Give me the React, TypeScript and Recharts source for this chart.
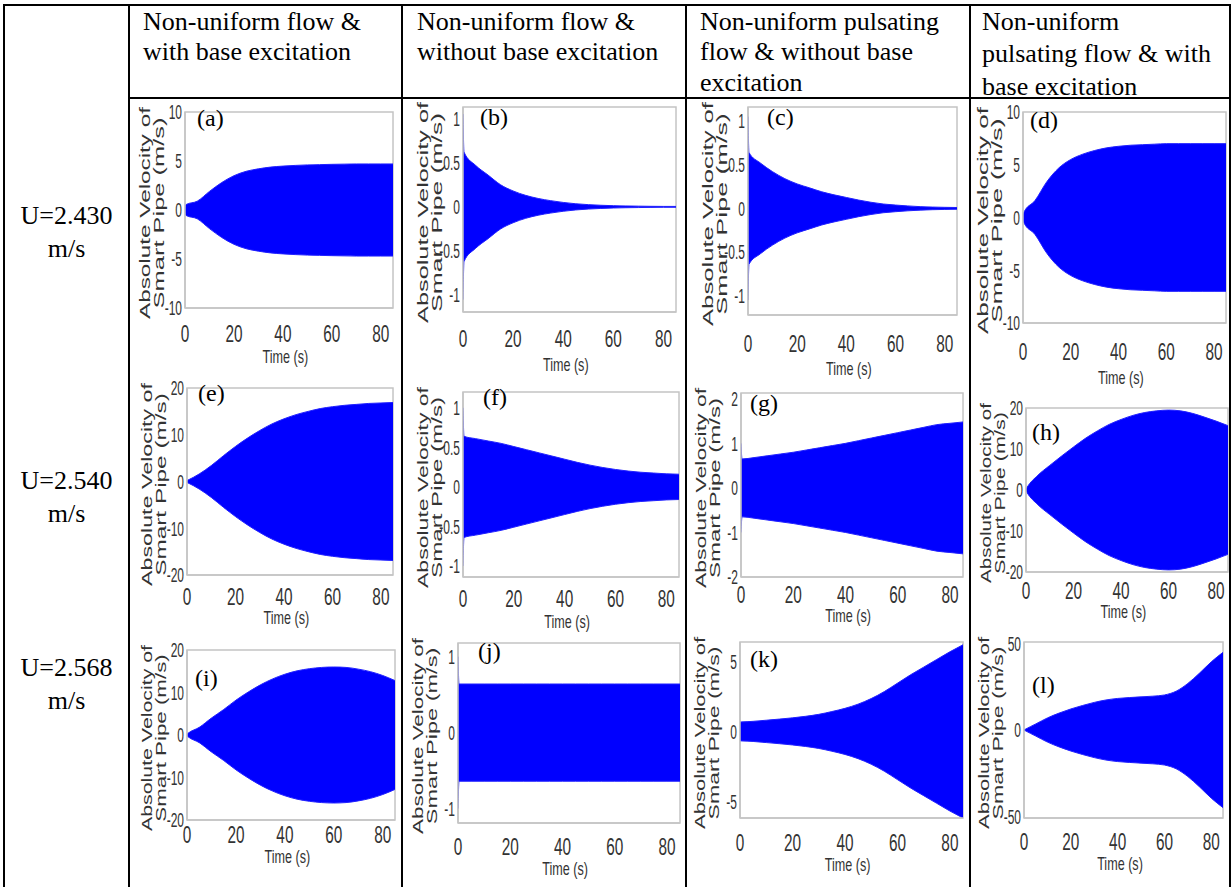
import React from 'react';
import { AreaChart, Area, XAxis, YAxis } from 'recharts';

// sample times (s) shared by every panel
const TIME = [0, 0.4, 5, 10, 15, 20, 25, 30, 35, 40, 45, 50, 55, 60, 65, 70, 75, 80, 85];

// envelope amplitude (m/s) of each response
const ampA = [0.25, 0.55, 0.9, 1.9, 2.8, 3.5, 3.95, 4.2, 4.38, 4.48, 4.55, 4.6, 4.63, 4.66, 4.68, 4.7, 4.7, 4.7, 4.7];
const ampB = [1.05, 0.62, 0.47, 0.36, 0.25, 0.18, 0.13, 0.095, 0.07, 0.05, 0.035, 0.025, 0.018, 0.013, 0.01, 0.008, 0.006, 0.005, 0.005];
const ampC = [1.05, 0.64, 0.52, 0.42, 0.34, 0.28, 0.235, 0.19, 0.155, 0.125, 0.095, 0.07, 0.05, 0.038, 0.028, 0.02, 0.015, 0.012, 0.01];
const ampD = [0.3, 0.5, 1.6, 3.4, 4.7, 5.5, 6.0, 6.35, 6.6, 6.75, 6.85, 6.9, 6.95, 7.0, 7.0, 7.0, 7.0, 7.0, 7.0];
const ampE = [0.2, 0.3, 1.6, 3.4, 5.5, 7.5, 9.3, 10.9, 12.3, 13.4, 14.3, 15.0, 15.6, 16.0, 16.3, 16.5, 16.7, 16.8, 16.9];
const ampF = [1.0, 0.64, 0.61, 0.58, 0.55, 0.51, 0.47, 0.43, 0.39, 0.35, 0.31, 0.275, 0.245, 0.22, 0.2, 0.185, 0.175, 0.165, 0.16];
const ampG = [1.0, 0.65, 0.68, 0.72, 0.76, 0.8, 0.85, 0.9, 0.95, 1.0, 1.06, 1.12, 1.18, 1.24, 1.3, 1.36, 1.42, 1.45, 1.48];
const ampH = [0.2, 0.6, 3.6, 6.0, 8.3, 10.5, 12.6, 14.4, 16.0, 17.2, 18.2, 18.9, 19.3, 19.5, 19.3, 18.7, 17.8, 16.8, 15.7];
const ampI = [0.2, 0.4, 1.8, 4.0, 6.0, 8.2, 10.1, 11.8, 13.2, 14.3, 15.1, 15.6, 15.9, 16.0, 15.9, 15.5, 14.9, 14.0, 12.8];
const ampJ = [1.0, 0.64, 0.64, 0.64, 0.64, 0.64, 0.64, 0.64, 0.64, 0.64, 0.64, 0.64, 0.64, 0.64, 0.64, 0.64, 0.64, 0.64, 0.64];
const ampK = [0.68, 0.68, 0.72, 0.8, 0.88, 0.97, 1.08, 1.22, 1.42, 1.65, 1.95, 2.35, 2.85, 3.45, 4.05, 4.6, 5.15, 5.7, 6.2];
const ampL = [0, 0.3, 3.5, 7, 9.8, 12.2, 14.2, 16, 17.4, 18.3, 18.8, 19.2, 19.6, 20.3, 22.5, 27, 33, 39.5, 45];

const X_TICKS = [0, 20, 40, 60, 80];
const TICKS_10 = [-10, -5, 0, 5, 10];
const TICKS_1 = [-1, -0.5, 0, 0.5, 1];
const TICKS_20 = [-20, -10, 0, 10, 20];
const TICKS_2 = [-2, -1, 0, 1, 2];
const TICKS_J = [-1, 0, 1];
const TICKS_6 = [-5, 0, 5];
const TICKS_50 = [-50, 0, 50];

const HEADERS = [
  ['Non-uniform flow &', 'with base excitation'],
  ['Non-uniform flow &', 'without base excitation'],
  ['Non-uniform pulsating', 'flow & without base', 'excitation'],
  ['Non-uniform', 'pulsating flow & with', 'base excitation'],
];
const SPEEDS = ['U=2.430', 'U=2.540', 'U=2.568'];
const Y_LABEL = ['Absolute Velocity of', 'Smart Pipe (m/s)'];

const SERIF = '"Liberation Serif", "Times New Roman", serif';
const SANS = '"Liberation Sans", Arial, sans-serif';
const AXIS = '#c4c4c4';

type PanelDef = {
  tag: string;
  amp: number[];
  domain: [number, number];
  yTicks: number[];
  box: [number, number, number, number];
  tickOff: number;
  timeOff: number;
  tagPos: [number, number];
};

const PANELS: PanelDef[] = [
  { tag: '(a)', amp: ampA, domain: [-10, 10], yTicks: TICKS_10, box: [185, 112, 208, 196], tickOff: 26, timeOff: 49, tagPos: [12, 6] },
  { tag: '(b)', amp: ampB, domain: [-1.19, 1.13], yTicks: TICKS_1, box: [463, 107, 213, 205], tickOff: 27, timeOff: 53, tagPos: [17, 10] },
  { tag: '(c)', amp: ampC, domain: [-1.22, 1.16], yTicks: TICKS_1, box: [748, 107, 209, 208], tickOff: 29, timeOff: 54, tagPos: [19, 10] },
  { tag: '(d)', amp: ampD, domain: [-10, 10], yTicks: TICKS_10, box: [1023, 112, 203, 211], tickOff: 29, timeOff: 55, tagPos: [7, 8] },
  { tag: '(e)', amp: ampE, domain: [-20, 20], yTicks: TICKS_20, box: [187, 388, 206, 187], tickOff: 22, timeOff: 43, tagPos: [11, 5] },
  { tag: '(f)', amp: ampF, domain: [-1.14, 1.2], yTicks: TICKS_1, box: [463, 392, 216, 185], tickOff: 22, timeOff: 45, tagPos: [20, 5] },
  { tag: '(g)', amp: ampG, domain: [-2, 2.13], yTicks: TICKS_2, box: [741, 393, 222, 184], tickOff: 18, timeOff: 39, tagPos: [9, 10] },
  { tag: '(h)', amp: ampH, domain: [-20, 20], yTicks: TICKS_20, box: [1026, 408, 202, 164], tickOff: 19, timeOff: 40, tagPos: [6, 24] },
  { tag: '(i)', amp: ampI, domain: [-20, 20], yTicks: TICKS_20, box: [187, 650, 208, 170], tickOff: 15, timeOff: 37, tagPos: [8, 28] },
  { tag: '(j)', amp: ampJ, domain: [-1.19, 1.18], yTicks: TICKS_J, box: [458, 643, 222, 180], tickOff: 24, timeOff: 46, tagPos: [20, 8] },
  { tag: '(k)', amp: ampK, domain: [-6.2, 6.4], yTicks: TICKS_6, box: [740, 642, 223, 176], tickOff: 25, timeOff: 47, tagPos: [10, 17] },
  { tag: '(l)', amp: ampL, domain: [-51, 51], yTicks: TICKS_50, box: [1024, 642, 199, 176], tickOff: 24, timeOff: 46, tagPos: [8, 43] },
];

const LEFT = 60;
const TOP = 14;

function Panel({ p }: { p: PanelDef }) {
  const [px, py, w, h] = p.box;
  const W = w + 70;
  const H = h + TOP + 70;
  const data = TIME.map((t, i) => ({ t, band: [-p.amp[i], p.amp[i]] }));

  const xTick = (props: any) => (
    <g transform={`translate(${props.x},${TOP + h + p.tickOff})`}>
      <text transform="scale(0.64,1)" textAnchor="middle" dominantBaseline="central" fontFamily={SANS} fontSize={24} fill="#333">
        {props.payload.value}
      </text>
    </g>
  );
  const yTick = (props: any) => (
    <g transform={`translate(${LEFT - 3},${props.y})`}>
      <text transform="scale(0.6,1)" textAnchor="end" dominantBaseline="central" fontFamily={SANS} fontSize={20} fill="#333">
        {props.payload.value}
      </text>
    </g>
  );

  const len1 = h + 16;
  const len2 = len1 * 0.9;
  const cy = TOP + h / 2 + 3;

  return (
    <div style={{ position: 'absolute', left: px - LEFT, top: py - TOP, width: W, height: H }}>
      <svg width={W} height={H} style={{ position: 'absolute', left: 0, top: 0 }}>
        <rect x={LEFT} y={TOP} width={w} height={h} fill="#fff" stroke={AXIS} strokeWidth={1.5} />
      </svg>
      <div style={{ position: 'absolute', left: 0, top: 0 }}>
        <AreaChart width={W} height={H} data={data} margin={{ top: TOP, right: 10, bottom: 0, left: 0 }}>
          <XAxis
            type="number"
            dataKey="t"
            domain={[0, 85]}
            ticks={X_TICKS}
            allowDataOverflow
            height={70}
            axisLine={{ stroke: AXIS, strokeWidth: 1.5 }}
            tickLine={false}
            tick={xTick}
            interval={0}
          />
          <YAxis
            type="number"
            domain={p.domain}
            ticks={p.yTicks}
            allowDataOverflow
            width={LEFT}
            axisLine={{ stroke: AXIS, strokeWidth: 1.5 }}
            tickLine={false}
            tick={yTick}
            interval={0}
          />
          <Area
            dataKey="band"
            type="monotone"
            fill="#0000ff"
            fillOpacity={1}
            stroke="#2020ff"
            strokeWidth={1}
            dot={false}
            activeDot={false}
            isAnimationActive={false}
          />
        </AreaChart>
      </div>
      <svg width={W} height={H} style={{ position: 'absolute', left: 0, top: 0, pointerEvents: 'none' }}>
        <text
          transform={`translate(${LEFT - 40},${cy}) rotate(-90)`}
          textAnchor="middle"
          dominantBaseline="central"
          fontFamily={SANS}
          fontSize={14}
          fill="#333"
          textLength={len1}
          lengthAdjust="spacingAndGlyphs"
        >
          {Y_LABEL[0]}
        </text>
        <text
          transform={`translate(${LEFT - 26},${cy}) rotate(-90)`}
          textAnchor="middle"
          dominantBaseline="central"
          fontFamily={SANS}
          fontSize={14}
          fill="#333"
          textLength={len2}
          lengthAdjust="spacingAndGlyphs"
        >
          {Y_LABEL[1]}
        </text>
        <g transform={`translate(${LEFT + (w * 41) / 85},${TOP + h + p.timeOff})`}>
          <text transform="scale(0.7,1)" textAnchor="middle" dominantBaseline="central" fontFamily={SANS} fontSize={18} fill="#333">
            Time (s)
          </text>
        </g>
        <text x={LEFT + p.tagPos[0]} y={TOP + p.tagPos[1]} dominantBaseline="central" fontFamily={SERIF} fontSize={24} fill="#000">
          {p.tag}
        </text>
      </svg>
    </div>
  );
}

const line = (left: number, top: number, width: number, height: number, key: string) => (
  <div key={key} style={{ position: 'absolute', left, top, width, height, background: '#000' }} />
);

export default function App() {
  const colLeft = [143, 417, 700, 982];
  const colLH = [30.5, 30.5, 30.5, 32.5];
  const speedY = [215, 480, 667];

  return (
    <div style={{ position: 'absolute', left: 0, top: 0, width: 1232, height: 887, background: '#fff', overflow: 'hidden' }}>
      {line(3, 4, 1228, 2, 'top')}
      {line(3, 4, 2, 883, 'l0')}
      {line(128, 4, 2, 883, 'l1')}
      {line(401, 4, 2, 883, 'l2')}
      {line(685, 4, 2, 883, 'l3')}
      {line(969, 4, 2, 883, 'l4')}
      {line(1229, 4, 2, 883, 'l5')}
      {line(128, 97, 1103, 2, 'hb')}

      {HEADERS.map((lines, i) => (
        <div
          key={i}
          style={{
            position: 'absolute',
            left: colLeft[i],
            top: 22 - colLH[i] / 2,
            fontFamily: SERIF,
            fontSize: 26,
            lineHeight: `${colLH[i]}px`,
            whiteSpace: 'pre',
            color: '#000',
          }}
        >
          {lines.map((s, j) => (
            <div key={j}>{s}</div>
          ))}
        </div>
      ))}

      {SPEEDS.map((s, i) => (
        <div
          key={s}
          style={{
            position: 'absolute',
            left: 5,
            width: 123,
            top: speedY[i] - 16,
            textAlign: 'center',
            fontFamily: SERIF,
            fontSize: 26,
            lineHeight: '33px',
            color: '#000',
          }}
        >
          <div>{s}</div>
          <div>m/s</div>
        </div>
      ))}

      {PANELS.map((p) => (
        <Panel key={p.tag} p={p} />
      ))}
    </div>
  );
}
